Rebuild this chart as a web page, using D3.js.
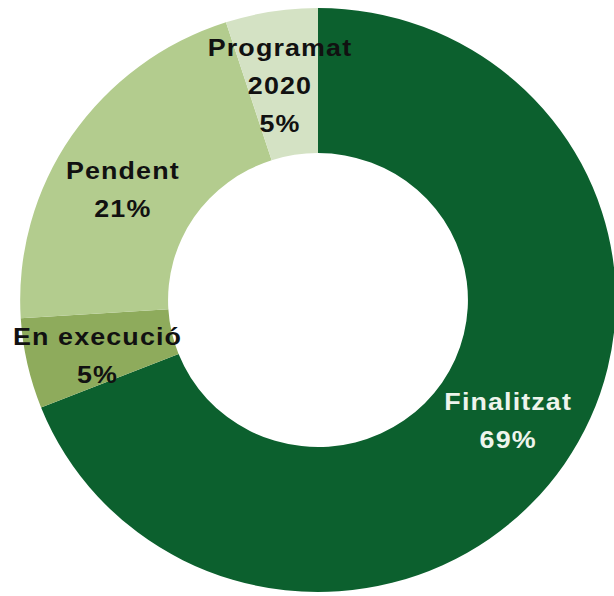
<!DOCTYPE html>
<html>
<head>
<meta charset="utf-8">
<script src="https://cdn.jsdelivr.net/npm/d3@7"></script>
<style>
  body { margin: 0; background: #fff; }
  svg { display: block; }
  .label { font-family: "Liberation Sans", Arial, sans-serif; font-weight: bold; font-size: 24px; letter-spacing: 1px; }
</style>
</head>
<body>
<div class="donut"></div>
<script>
// datos del gráfico
const categories = ['Finalitzat', 'En execució', 'Pendent', 'Programat 2020'];
const values = [69, 5, 21, 5];
const labelLines = [['Finalitzat'], ['En execució'], ['Pendent'], ['Programat', '2020']];

// colores de cada tramo
const colors = ['#0c602e', '#8eab5c', '#b3cc8e', '#d4e2c4'];
const textColors = ['#eef4ec', '#111', '#111', '#111'];

// pequeños ajustes de la posición de las etiquetas respecto al centroide
const labelOffset = [[5, -2], [-2, 8], [-10, 13], [-3, 3]];

const width = 614;
const height = 596;
const cx = 318, cy = 300;
const outer = 292, inner = 147;
const lineHeight = 38;

const svg = d3.select('.donut')
  .append('svg')
  .attr('width', width)
  .attr('height', height);

const data = categories.map((c, i) => ({ name: c, value: values[i], i }));

const pie = d3.pie()
  .sort(null)
  .value(d => d.value);

const arc = d3.arc()
  .innerRadius(inner)
  .outerRadius(outer);

const arcs = pie(data);

// el donut está un poco estirado en horizontal
const g = svg.append('g')
  .attr('transform', `translate(${cx}, ${cy}) scale(1.02, 1)`);

g.selectAll('path')
  .data(arcs)
  .join('path')
  .attr('d', arc)
  .attr('fill', d => colors[d.data.i]);

// etiquetas
const labels = svg.append('g')
  .attr('transform', `translate(${cx}, ${cy})`);

arcs.forEach(d => {
  const i = d.data.i;
  const [x, y] = arc.centroid(d);
  const lines = labelLines[i].concat([`${values[i]}%`]);
  const px = x * 1.02 + labelOffset[i][0];
  const py = y + labelOffset[i][1] - (lines.length - 1) * lineHeight / 2;

  const t = labels.append('text')
    .attr('class', 'label')
    .attr('fill', textColors[i])
    .attr('text-anchor', 'middle')
    .attr('transform', `translate(${px}, ${py}) scale(1.12, 1)`);

  lines.forEach((l, k) => {
    t.append('tspan')
      .attr('x', 0)
      .attr('y', k * lineHeight)
      .attr('dy', '0.33em')
      .text(l);
  });
});
</script>
</body>
</html>
